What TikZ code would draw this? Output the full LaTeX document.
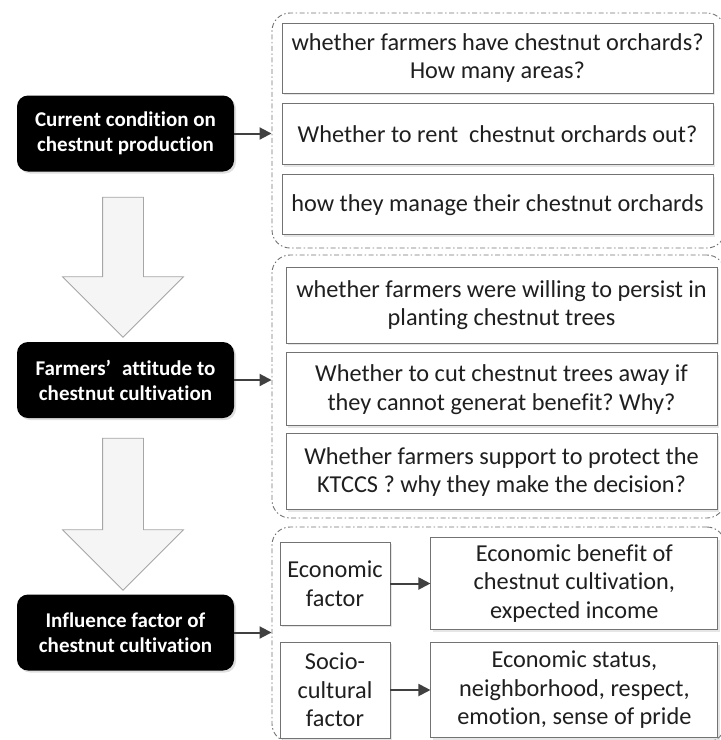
\documentclass[tikz,border=0pt]{standalone}
\usepackage{fontspec}
\setmainfont[RawFeature={-liga}]{Carlito}
\frenchspacing
\usetikzlibrary{shapes.arrows,arrows.meta,positioning,shadows}

\begin{document}
\begin{tikzpicture}[x=1pt,y=-1pt]
\tikzstyle{stage}=[rectangle,rounded corners=11pt,fill=black,text=white,
font=\fontsize{21}{25}\selectfont\bfseries,align=center,
minimum width=217pt,minimum height=76pt,inner sep=0pt,
drop shadow={shadow xshift=2pt,shadow yshift=-2pt,opacity=0.25}]
\tikzstyle{item}=[rectangle,draw=black!55,line width=0.9pt,fill=white,text=black!88,
font=\fontsize{24.3}{28.5}\selectfont,align=center,inner sep=0pt,
drop shadow={shadow xshift=2pt,shadow yshift=-2pt,opacity=0.2}]
\tikzstyle{group}=[rectangle,rounded corners=18pt,draw=black!55,line width=0.9pt,
dash pattern=on 5pt off 2.5pt on 1.5pt off 2.5pt,inner sep=0pt,
minimum width=453pt]
\tikzstyle{link}=[draw=black!75,line width=2pt,-{Triangle[length=12pt,width=12pt]}]
\tikzstyle{bigarrow}=[single arrow,rotate=-90,draw=black!35,fill=black!4,
line width=0.8pt,inner sep=0pt,text height=20pt,text depth=20pt,
single arrow head extend=40pt,single arrow tip angle=90]

\useasboundingbox (0,0) rectangle (721,740);
\clip (0,0) rectangle (721,740);

% dashed frames
\node[group,minimum height=235pt] at (498.5,130.5) (g1) {};
\node[group,minimum height=263pt] at (498.5,386.5) (g2) {};
\node[group,minimum height=215pt] at (498.5,634.5) (g3) {};

% stages
\node[stage] at (125.5,133.5) (cur) {Current condition on\\chestnut production};
\node[stage] at (125.5,380) (att) {Farmers’\hspace{0.3em} attitude to\\chestnut cultivation};
\node[stage] at (125.5,632.5) (inf) {Influence factor of\\chestnut cultivation};

\node[bigarrow,minimum height=140pt] at (123,257) (a1) {};
\node[bigarrow,minimum height=152pt] at (123,504) (a2) {};

% questions
\node[item,minimum width=431pt,minimum height=70pt] at (497.5,58) (q1)
  {whether farmers have chestnut orchards?\\How many areas?};
\node[item,minimum width=431pt,minimum height=61pt,below=10pt of q1] (q2)
  {Whether to rent~ chestnut orchards out?};
\node[item,minimum width=431pt,minimum height=60pt,below=9pt of q2] (q3)
  {how they manage their chestnut orchards};

\node[item,minimum width=431pt,minimum height=76pt] at (501.5,305) (p1)
  {whether farmers were willing to persist in\\planting chestnut trees};
\node[item,minimum width=431pt,minimum height=73pt,below=9pt of p1] (p2)
  {Whether to cut chestnut trees away if\\they cannot generat benefit? Why?};
\node[item,minimum width=431pt,minimum height=76pt,below=7pt of p2] (p3)
  {Whether farmers support to protect the\\KTCCS ? why they make the decision?};

\node[item,minimum width=110pt,minimum height=83pt] at (335,583.5) (eco)
  {Economic\\factor};
\node[item,minimum width=287pt,minimum height=92pt,right=40pt of eco] (ecod)
  {Economic benefit of\\chestnut cultivation,\\expected income};
\node[item,minimum width=110pt,minimum height=96pt] at (335,690) (soc)
  {Socio-\\cultural\\factor};
\node[item,minimum width=287pt,minimum height=95pt,right=40pt of soc] (socd)
  {Economic status,\\neighborhood, respect,\\emotion, sense of pride};

\draw[link] (cur) -- (cur -| g1.west);
\draw[link] (att) -- (att -| g2.west);
\draw[link] (inf) -- (inf -| g3.west);
\draw[link] (eco) -- (ecod);
\draw[link] (soc) -- (socd);

\end{tikzpicture}
\end{document}
